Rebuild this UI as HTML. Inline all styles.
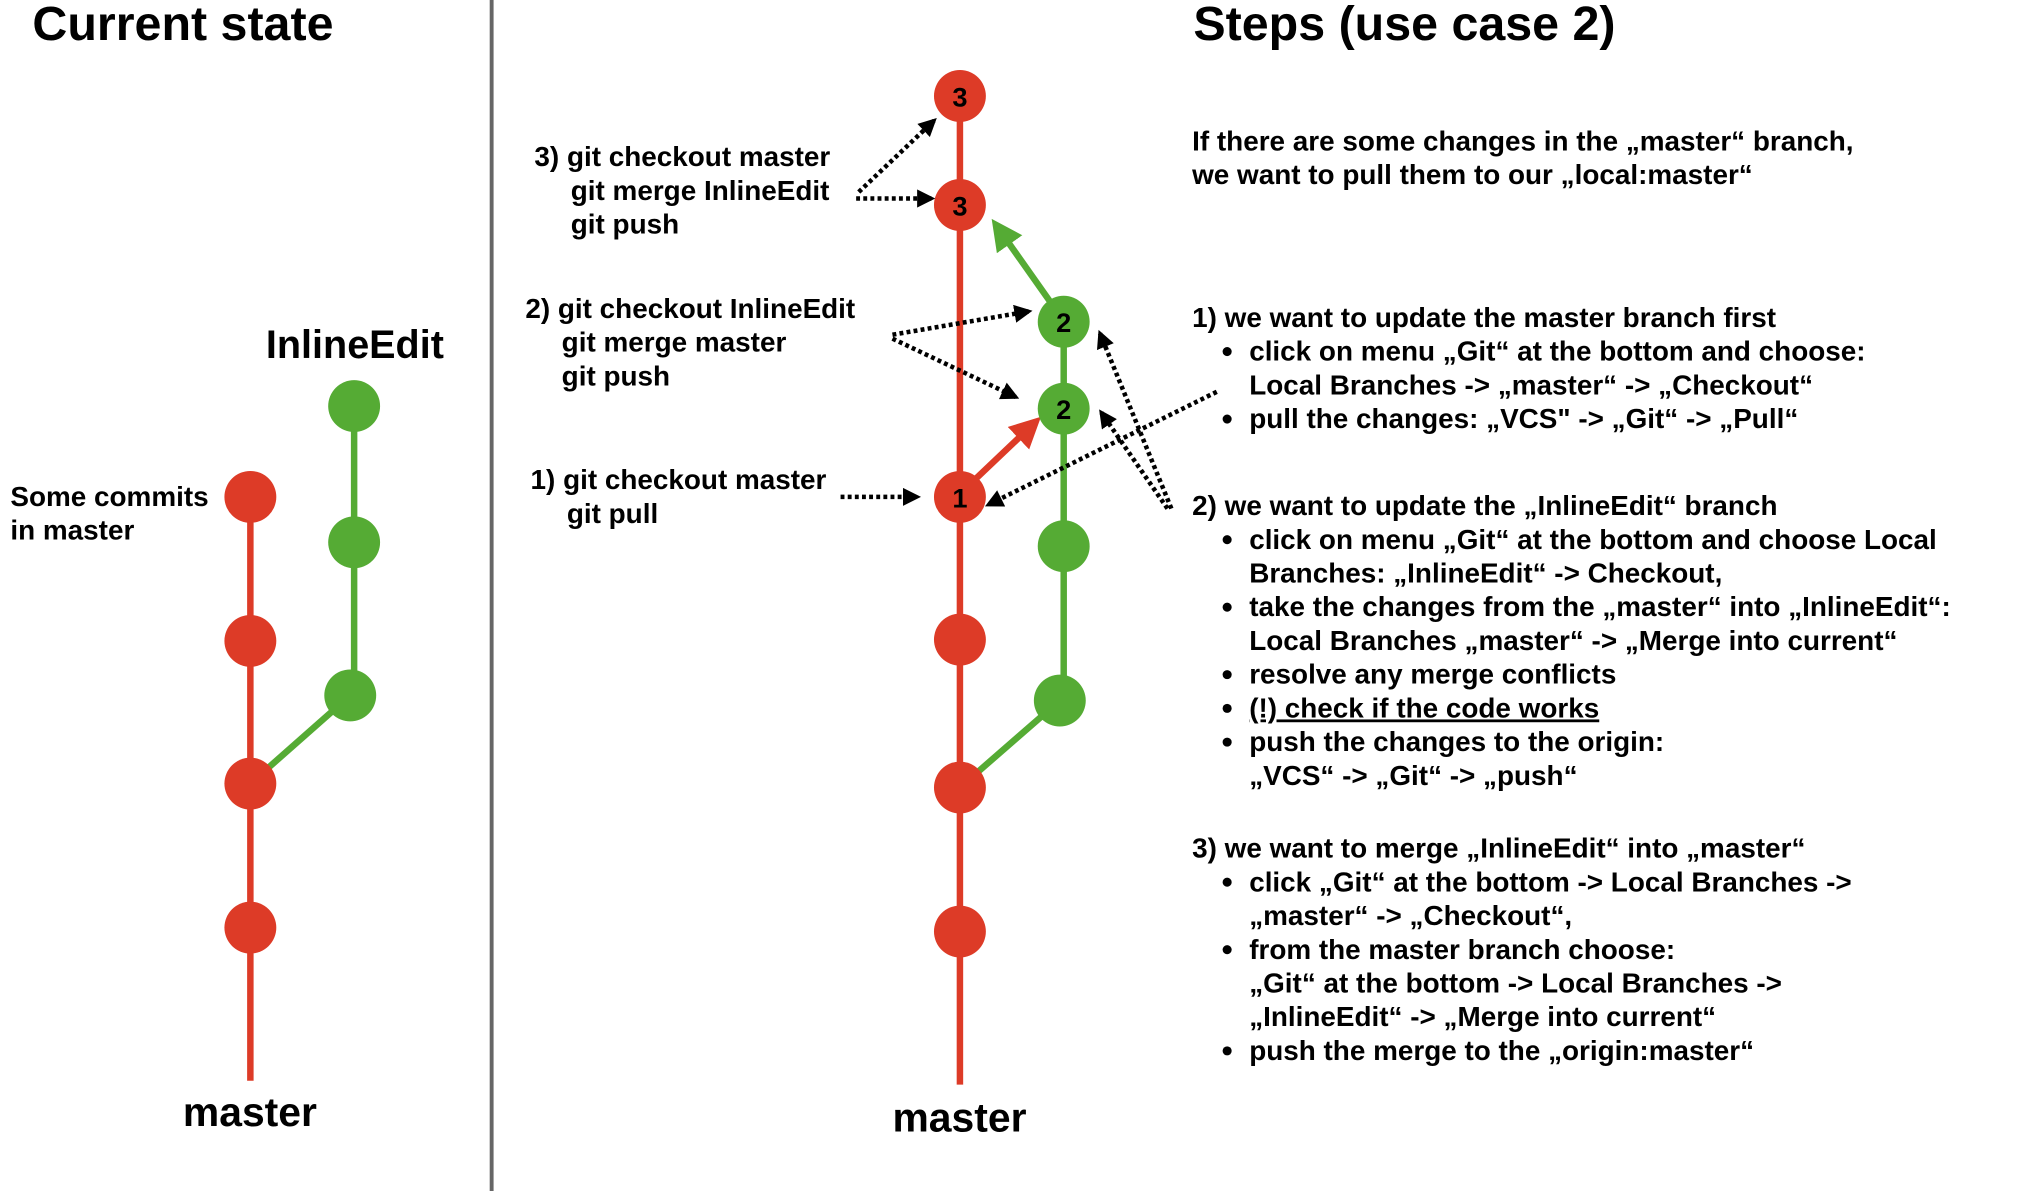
<!DOCTYPE html>
<html><head><meta charset="utf-8"><style>
html,body{margin:0;padding:0;background:#fff;}
svg{display:block;}
text{font-family:"Liberation Sans",Arial,sans-serif;font-weight:bold;fill:#000;}
</style></head><body>
<svg width="2034" height="1191" viewBox="0 0 1568 918" preserveAspectRatio="none" xmlns="http://www.w3.org/2000/svg">
<defs>
<marker id="ah" markerWidth="14" markerHeight="14" refX="11" refY="7" orient="auto" markerUnits="userSpaceOnUse"><path d="M0,0 L14,7 L0,14 z" fill="#000"/></marker>
<marker id="gh" markerWidth="24" markerHeight="24" refX="4" refY="12" orient="auto" markerUnits="userSpaceOnUse"><path d="M0,0 L24,12 L0,24 z" fill="#55ab34"/></marker>
<marker id="rh" markerWidth="24" markerHeight="24" refX="4" refY="12" orient="auto" markerUnits="userSpaceOnUse"><path d="M0,0 L24,12 L0,24 z" fill="#dd3b27"/></marker>
</defs>
<rect width="1568" height="918" fill="#fff"/>
<line x1="379" y1="0" x2="379" y2="918" stroke="#666" stroke-width="3"/>
<text x="25" y="31" font-size="37.3">Current state</text>
<text x="920" y="31" font-size="37.3">Steps (use case 2)</text>

<line x1="193" y1="383" x2="193" y2="833" stroke="#dd3b27" stroke-width="5"/>
<line x1="273" y1="313" x2="273" y2="536" stroke="#55ab34" stroke-width="5"/>
<line x1="270" y1="536" x2="193" y2="604" stroke="#55ab34" stroke-width="5"/>
<g fill="#dd3b27"><circle cx="193" cy="383" r="20"/><circle cx="193" cy="494" r="20"/><circle cx="193" cy="604" r="20"/><circle cx="193" cy="715" r="20"/></g>
<g fill="#55ab34"><circle cx="273" cy="313" r="20"/><circle cx="273" cy="418" r="20"/><circle cx="270" cy="536" r="20"/></g>
<text x="205" y="276" font-size="30.5">InlineEdit</text>
<text x="141" y="868" font-size="31.5">master</text>
<text x="8" y="390" font-size="21.5">Some commits</text>
<text x="8" y="416" font-size="21.5">in master</text>

<line x1="740" y1="74" x2="740" y2="836" stroke="#dd3b27" stroke-width="5"/>
<line x1="820" y1="248" x2="820" y2="540" stroke="#55ab34" stroke-width="5"/>
<line x1="817" y1="540" x2="740" y2="607" stroke="#55ab34" stroke-width="5"/>
<line x1="812" y1="236" x2="776" y2="185" stroke="#55ab34" stroke-width="5" marker-end="url(#gh)"/>
<line x1="748" y1="373" x2="788" y2="335" stroke="#dd3b27" stroke-width="5" marker-end="url(#rh)"/>
<g fill="#dd3b27"><circle cx="740" cy="74" r="20"/><circle cx="740" cy="158" r="20"/><circle cx="740" cy="383" r="20"/><circle cx="740" cy="493" r="20"/><circle cx="740" cy="607" r="20"/><circle cx="740" cy="718" r="20"/></g>
<g fill="#55ab34"><circle cx="820" cy="248" r="20"/><circle cx="820" cy="315" r="20"/><circle cx="820" cy="421" r="20"/><circle cx="817" cy="540" r="20"/></g>
<g font-size="21" text-anchor="middle"><text x="740" y="82">3</text><text x="740" y="166">3</text><text x="740" y="391">1</text><text x="820" y="256">2</text><text x="820" y="323">2</text></g>
<text x="688" y="872" font-size="31.5">master</text>

<g font-size="21.5">
<text x="412" y="128">3) git checkout master</text>
<text x="440" y="154">git merge InlineEdit</text>
<text x="440" y="180">git push</text>
<text x="405" y="245">2) git checkout InlineEdit</text>
<text x="433" y="271">git merge master</text>
<text x="433" y="297">git push</text>
<text x="409" y="377">1) git checkout master</text>
<text x="437" y="403">git pull</text>
</g>

<g stroke="#000" stroke-width="3.5" stroke-dasharray="3,2.5" fill="none" marker-end="url(#ah)">
<line x1="660" y1="153" x2="718" y2="153"/>
<line x1="662" y1="148" x2="720" y2="93"/>
<line x1="688" y1="258" x2="793" y2="240"/>
<line x1="688" y1="261" x2="783" y2="306"/>
<line x1="648" y1="383" x2="707" y2="383"/>
<line x1="938" y1="302" x2="762" y2="389"/>
<line x1="903" y1="392" x2="848" y2="257"/>
<line x1="900" y1="392" x2="849" y2="318"/>
</g>

<g font-size="21.5">
<text x="919" y="116">If there are some changes in the „master“ branch,</text>
<text x="919" y="142">we want to pull them to our „local:master“</text>
<text x="919" y="252">1) we want to update the master branch first</text>
<text x="963" y="278">click on menu „Git“ at the bottom and choose:</text>
<text x="963" y="304">Local Branches -&gt; „master“ -&gt; „Checkout“</text>
<text x="963" y="330">pull the changes: „VCS" -&gt; „Git“ -&gt; „Pull“</text>
<text x="919" y="397">2) we want to update the „InlineEdit“ branch</text>
<text x="963" y="423">click on menu „Git“ at the bottom and choose Local</text>
<text x="963" y="449">Branches: „InlineEdit“ -&gt; Checkout,</text>
<text x="963" y="475">take the changes from the „master“ into „InlineEdit“:</text>
<text x="963" y="501">Local Branches „master“ -&gt; „Merge into current“</text>
<text x="963" y="527">resolve any merge conflicts</text>
<text x="963" y="553" text-decoration="underline">(!) check if the code works</text>
<text x="963" y="579">push the changes to the origin:</text>
<text x="963" y="605">„VCS“ -&gt; „Git“ -&gt; „push“</text>
<text x="919" y="661">3) we want to merge „InlineEdit“ into „master“</text>
<text x="963" y="687">click „Git“ at the bottom -&gt; Local Branches -&gt;</text>
<text x="963" y="713">„master“ -&gt; „Checkout“,</text>
<text x="963" y="739">from the master branch choose:</text>
<text x="963" y="765">„Git“ at the bottom -&gt; Local Branches -&gt;</text>
<text x="963" y="791">„InlineEdit“ -&gt; „Merge into current“</text>
<text x="963" y="817">push the merge to the „origin:master“</text>
</g>
<g fill="#000">
<circle cx="946" cy="271" r="3.5"/><circle cx="946" cy="323" r="3.5"/>
<circle cx="946" cy="416" r="3.5"/><circle cx="946" cy="468" r="3.5"/><circle cx="946" cy="520" r="3.5"/><circle cx="946" cy="546" r="3.5"/><circle cx="946" cy="572" r="3.5"/>
<circle cx="946" cy="680" r="3.5"/><circle cx="946" cy="732" r="3.5"/><circle cx="946" cy="810" r="3.5"/>
</g>
</svg>
</body></html>
